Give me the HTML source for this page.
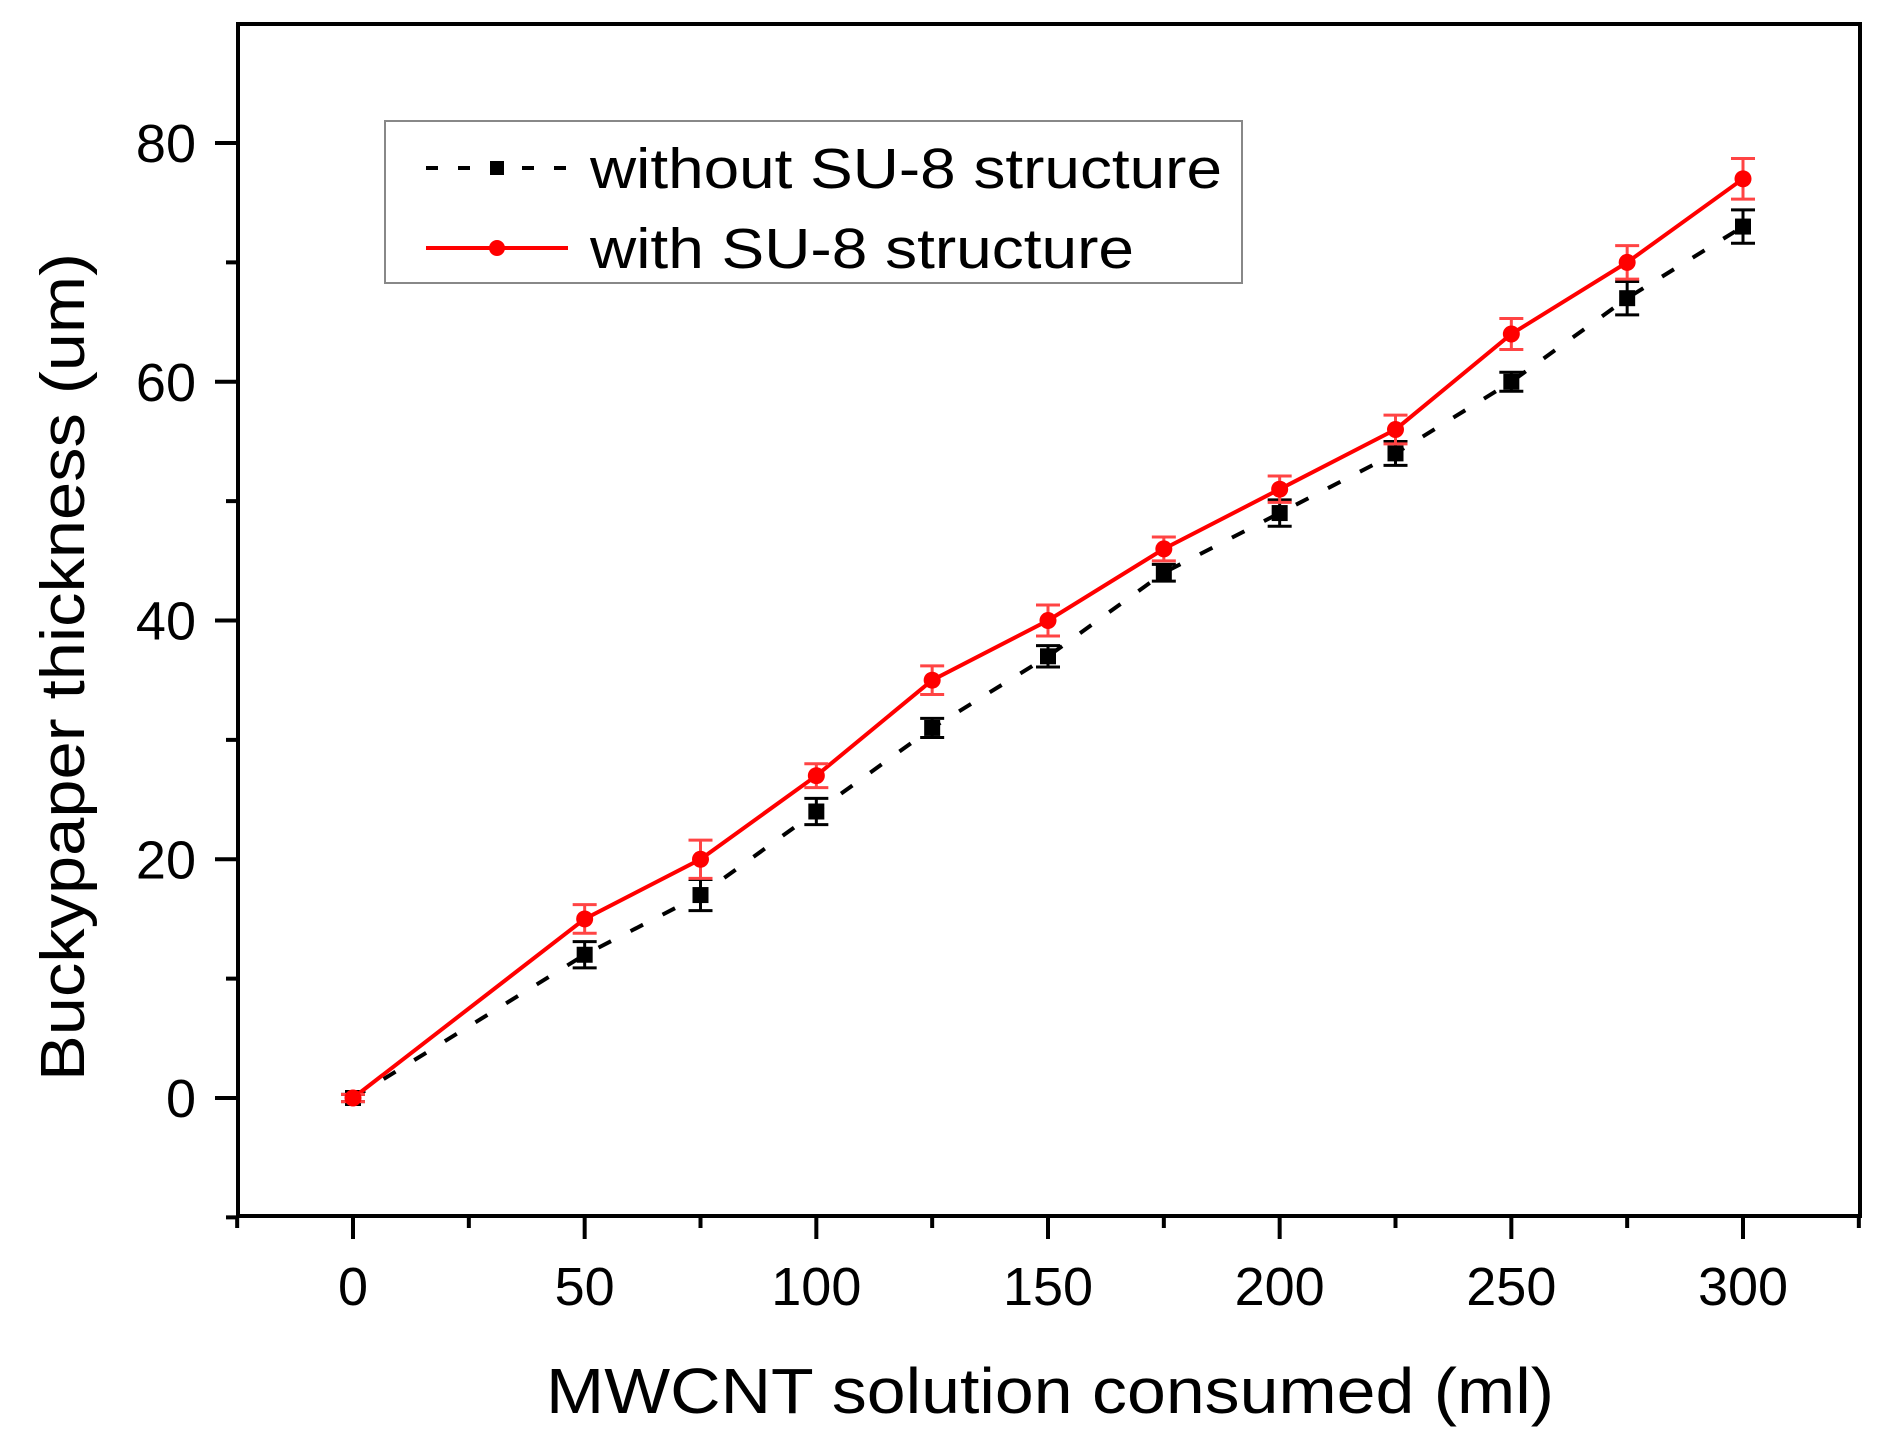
<!DOCTYPE html>
<html><head><meta charset="utf-8"><style>
html,body{margin:0;padding:0;background:#fff;}
svg{display:block;font-family:"Liberation Sans",Arial,sans-serif;}
</style></head><body>
<svg id="chart" width="1881" height="1443" viewBox="0 0 1881 1443">
<g id="marks"></g>
<g id="axes"></g>
<g>
<rect x="385" y="121" width="857" height="162" fill="#fff" stroke="#888" stroke-width="2"/>
<g>
<line x1="426" y1="168" x2="568" y2="168" stroke="#000" stroke-width="4" stroke-dasharray="12,20"/>
<rect x="490" y="161" width="14" height="14" fill="#000"/>
<text x="590" y="188" font-size="57" fill="#000" textLength="632" lengthAdjust="spacingAndGlyphs">without SU-8 structure</text>
</g>
<g>
<line x1="426" y1="248" x2="568" y2="248" stroke="#f00" stroke-width="4"/>
<circle cx="497" cy="248" r="8" fill="#f00"/>
<text x="590" y="268" font-size="57" fill="#000" textLength="544" lengthAdjust="spacingAndGlyphs">with SU-8 structure</text>
</g>
</g>
<text x="1050" y="1413" font-size="64" text-anchor="middle" textLength="1008" lengthAdjust="spacingAndGlyphs">MWCNT solution consumed (ml)</text>
<text transform="translate(84,667) rotate(-90)" font-size="62" text-anchor="middle" textLength="828" lengthAdjust="spacingAndGlyphs">Buckypaper thickness (um)</text>
</svg>
<script>
const xValues = [0,50,75,100,125,150,175,200,225,250,275,300];
const withoutSU8 = [0,12,17,24,31,37,44,49,54,60,67,73];
const withoutErr = [0.3,1.1,1.3,1.1,0.8,0.9,0.7,1.1,1.0,0.8,1.4,1.4];
const withSU8 = [0,15,20,27,35,40,46,51,56,64,70,77];
const withErr = [0.3,1.2,1.6,1.0,1.2,1.3,1.0,1.1,1.2,1.3,1.4,1.7];
const xTicks = [-25,0,25,50,75,100,125,150,175,200,225,250,275,300,325];
const xTickLabels = [0,50,100,150,200,250,300];
const yTicks = [-10,0,10,20,30,40,50,60,70,80];
const yTickLabels = [0,20,40,60,80];

const L=238,R=1860,T=24,B=1216;
function X(v){return 353+(v-0)*(1743-353)/300;}
function Y(v){return 1098-(v-0)*(1098-143)/80;}
const NS='http://www.w3.org/2000/svg';
function mk(tag,attrs,parent){const e=document.createElementNS(NS,tag);for(const k in attrs)e.setAttribute(k,attrs[k]);parent.appendChild(e);return e;}
const marks=document.getElementById('marks'), axes=document.getElementById('axes');

let p=mk('polyline',{points:xValues.map((x,i)=>X(x)+','+Y(withoutSU8[i])).join(' '),fill:'none',stroke:'#000','stroke-width':4,'stroke-dasharray':'14,22'},marks);


xValues.forEach((x,i)=>{
  const cx=X(x),y1=Y(withoutSU8[i]-withoutErr[i]),y2=Y(withoutSU8[i]+withoutErr[i]);
  const g=mk('g',{stroke:'#000','stroke-width':3},marks);
  
  
  mk('line',{x1:cx,x2:cx,y1:y1,y2:y2},g);
  mk('line',{x1:cx-12,x2:cx+12,y1:y1,y2:y1},g);
  mk('line',{x1:cx-12,x2:cx+12,y1:y2,y2:y2},g);
  const r=mk('rect',{x:cx-8,y:Y(withoutSU8[i])-8,width:16,height:16,fill:'#000'},marks);
  
  
});
p=mk('polyline',{points:xValues.map((x,i)=>X(x)+','+Y(withSU8[i])).join(' '),fill:'none',stroke:'#f00','stroke-width':4},marks);


xValues.forEach((x,i)=>{
  const cx=X(x),y1=Y(withSU8[i]-withErr[i]),y2=Y(withSU8[i]+withErr[i]);
  const g=mk('g',{stroke:'#f44','stroke-width':3},marks);
  
  
  mk('line',{x1:cx,x2:cx,y1:y1,y2:y2},g);
  mk('line',{x1:cx-12,x2:cx+12,y1:y1,y2:y1},g);
  mk('line',{x1:cx-12,x2:cx+12,y1:y2,y2:y2},g);
  const c=mk('circle',{cx:cx,cy:Y(withSU8[i]),r:8.5,fill:'#f00'},marks);
  
  
});
const fr=mk('rect',{x:L,y:T,width:R-L,height:B-T,fill:'none',stroke:'#000','stroke-width':4},axes);


xTicks.forEach(v=>{
  const major=xTickLabels.includes(v);
  const t=mk('line',{x1:X(v),x2:X(v),y1:B,y2:B+(major?23:12),stroke:'#000','stroke-width':4},axes);
  
  
});
xTickLabels.forEach(v=>{
  const t=mk('text',{x:X(v),y:1305,'font-size':54,'text-anchor':'middle'},axes);
  t.textContent=v;
  
  
});
yTicks.forEach(v=>{
  const major=yTickLabels.includes(v);
  const t=mk('line',{x1:L,x2:L-(major?23:12),y1:Y(v),y2:Y(v),stroke:'#000','stroke-width':4},axes);
  
  
});
yTickLabels.forEach(v=>{
  const t=mk('text',{x:196,y:Y(v)+19,'font-size':54,'text-anchor':'end'},axes);
  t.textContent=v;
  
  
});
</script>
</body></html>
